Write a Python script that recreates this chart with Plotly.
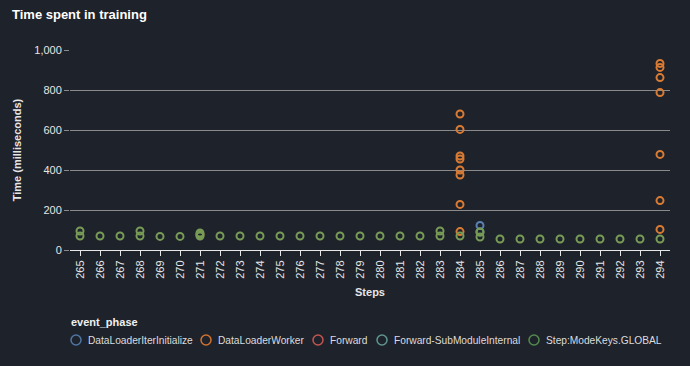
import plotly.graph_objects as go

steps = [str(s) for s in range(265, 295)]

# Step:ModeKeys.GLOBAL
green_x = ["265", "265", "266", "267", "268", "268", "269", "270", "271", "271", "271",
           "272", "273", "274", "275", "276", "277", "278", "279", "280", "281", "282",
           "283", "283", "284", "285", "285", "286", "287", "288", "289", "290", "291",
           "292", "293", "294"]
green_y = [95, 70, 70, 70, 95, 70, 68, 68, 85, 77, 70,
           70, 70, 70, 70, 70, 70, 70, 70, 70, 70, 70,
           95, 70, 70, 90, 65, 55, 55, 55, 55, 55, 55,
           55, 55, 55]

# DataLoaderWorker
orange_x = ["284"] * 8 + ["294"] * 7
orange_y = [680, 603, 470, 455, 400, 375, 228, 92,
            933, 913, 862, 787, 478, 247, 103]

# DataLoaderIterInitialize
blue_x = ["285"]
blue_y = [123]

# Forward (hidden under other marks)
red_x = ["271"]
red_y = [77]

# Forward-SubModuleInternal (hidden under other marks)
teal_x = ["285"]
teal_y = [90]

y_ticks = [0, 200, 400, 600, 800, 1000]

phases = ["DataLoaderIterInitialize", "DataLoaderWorker", "Forward",
          "Forward-SubModuleInternal", "Step:ModeKeys.GLOBAL"]
point_colors = ["#5b82b6", "#da7b34", "#c95a52", "#6f9f9a", "#789b56"]
legend_colors = ["#4f76a3", "#d0732f", "#c35550", "#5f968f", "#548a4c"]

FONT = "Liberation Sans, Arial, sans-serif"
BG = "#1e222b"
TXT = "#e6e6e6"

# plot area in pixels (for the hand-drawn legend)
L, R, T, B = 70, 20, 50, 116
PW, PH = 690 - L - R, 366 - T - B
legend_sym_px = [76, 206, 318, 382, 534]
legend_txt_px = [86, 216, 328, 392, 544]
legend_row_y = 340
legend_title_y = 322

def ring(name, x, y, color):
    return go.Scatter(
        x=x, y=y, name=name, mode="markers",
        marker=dict(symbol="circle-open", size=7, color=color,
                    line=dict(width=2, color=color)),
        hoverinfo="skip", showlegend=False,
    )

series = [(blue_x, blue_y), (orange_x, orange_y), (red_x, red_y),
          (teal_x, teal_y), (green_x, green_y)]

fig = go.Figure()
for name, (xs, ys), col in zip(phases, series, point_colors):
    fig.add_trace(ring(name, xs, ys, col))

def px2paper_x(px):
    return (px - L) / PW

def px2paper_y(py):
    return (366 - B - py) / PH

# legend title
fig.add_annotation(text="<b>event_phase</b>", xref="paper", yref="paper",
                   x=px2paper_x(69), y=px2paper_y(legend_title_y),
                   xanchor="left", yanchor="middle", showarrow=False,
                   font=dict(size=11, color="#f0f0f0"))
for name, col, sx, tx in zip(phases, legend_colors, legend_sym_px, legend_txt_px):
    fig.add_shape(type="circle", xref="paper", yref="paper",
                  xsizemode="pixel", ysizemode="pixel",
                  xanchor=px2paper_x(sx), yanchor=px2paper_y(legend_row_y),
                  x0=-5, x1=5, y0=-5, y1=5,
                  line=dict(color=col, width=1.5), fillcolor="rgba(0,0,0,0)")
    fig.add_annotation(text=name, xref="paper", yref="paper",
                       x=px2paper_x(tx), y=px2paper_y(legend_row_y),
                       xanchor="left", yanchor="middle", showarrow=False,
                       font=dict(size=10.2, color="#dcdcdc"))

fig.update_layout(
    width=690, height=366,
    paper_bgcolor=BG, plot_bgcolor=BG,
    margin=dict(l=L, r=R, t=T, b=B, autoexpand=False),
    font=dict(family=FONT, size=11, color=TXT),
    title=dict(text="<b>Time spent in training</b>", x=12 / 690, xref="container",
               xanchor="left", y=1 - 14 / 366, yref="container", yanchor="middle",
               font=dict(size=13, color="#ffffff")),
    showlegend=False,
    hovermode=False,
)

fig.update_xaxes(
    type="category", categoryorder="array", categoryarray=steps,
    range=[-0.5, 29.5], tickangle=-90, automargin=False,
    showgrid=False, zeroline=False,
    showline=True, linecolor="#e6e6e6", linewidth=1,
    ticks="outside", ticklen=5, tickcolor="#e6e6e6", tickwidth=1,
    tickfont=dict(size=11, color=TXT),
    title=dict(text="<b>Steps</b>", font=dict(size=11, color=TXT), standoff=10),
)
fig.update_yaxes(
    range=[0, 1000], tickvals=y_ticks, tickformat=",", automargin=False,
    showgrid=True, gridcolor="#8a8a8a", gridwidth=1,
    zeroline=False, showline=False,
    ticks="outside", ticklen=5, tickcolor="#8a8a8a", tickwidth=1,
    tickfont=dict(size=11, color=TXT),
    title=dict(text="<b>Time (milliseconds)</b>", font=dict(size=11, color=TXT), standoff=10),
)

fig.write_html(
    "out.html",
    config={"displayModeBar": False, "staticPlot": True},
    post_script="document.body.style.margin='0px';"
                "document.body.style.backgroundColor='#1e222b';",
)
